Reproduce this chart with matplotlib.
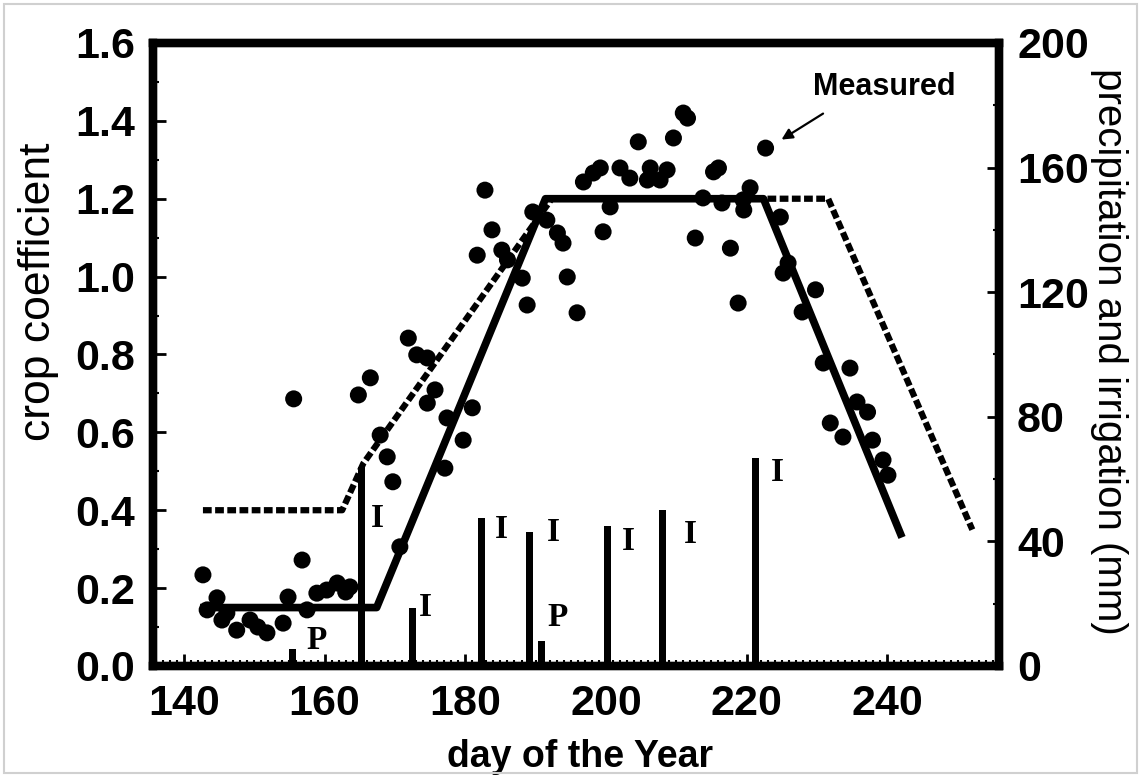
import matplotlib
matplotlib.use("Agg")
import matplotlib.pyplot as plt
from matplotlib.patches import Rectangle
from matplotlib.ticker import MultipleLocator

plt.rcParams['font.family'] = ['Liberation Sans', 'DejaVu Sans']

# measured crop coefficient (day of year, kc)
meas_day = [142.7, 143.3, 144.7, 145.4, 146.1, 147.5, 149.4, 150.5, 151.8, 154.1,
            154.8, 155.6, 156.8, 157.5, 158.9, 160.3, 161.8, 163.0, 163.6, 164.8,
            166.5, 167.9, 168.9, 169.7, 170.7, 171.9, 173.1, 174.6, 174.6, 175.7,
            177.1, 177.4, 179.7, 181.0, 181.7, 182.8, 183.8, 185.2, 186.0, 188.1,
            188.8, 189.6, 191.6, 193.1, 193.9, 194.5, 195.9, 196.8, 198.2, 199.2,
            199.6, 200.6, 202.0, 203.4, 204.6, 205.9, 206.3, 207.7, 208.7, 209.6,
            211.0, 211.6, 212.7, 213.8, 215.3, 216.0, 216.5, 217.7, 218.8, 219.5,
            219.6, 220.5, 222.7, 224.8, 225.2, 225.9, 227.9, 229.8, 230.9, 231.9,
            233.7, 234.7, 235.7, 237.2, 237.9, 239.4, 240.1]
meas_kc = [0.234, 0.144, 0.175, 0.118, 0.136, 0.092, 0.118, 0.100, 0.085, 0.110,
           0.177, 0.686, 0.272, 0.144, 0.187, 0.195, 0.213, 0.190, 0.203, 0.696,
           0.740, 0.593, 0.537, 0.473, 0.306, 0.842, 0.799, 0.791, 0.675, 0.709,
           0.508, 0.637, 0.580, 0.663, 1.055, 1.222, 1.120, 1.068, 1.043, 0.996,
           0.927, 1.166, 1.145, 1.112, 1.086, 0.999, 0.907, 1.243, 1.266, 1.279,
           1.115, 1.179, 1.279, 1.253, 1.346, 1.248, 1.279, 1.248, 1.274, 1.356,
           1.420, 1.407, 1.099, 1.202, 1.269, 1.279, 1.189, 1.073, 0.932, 1.197,
           1.171, 1.228, 1.330, 1.153, 1.009, 1.035, 0.909, 0.966, 0.778, 0.624,
           0.588, 0.765, 0.678, 0.652, 0.580, 0.529, 0.490]

# crop coefficient curves
solid_day = [142.3, 167.4, 191.4, 222.4, 242.1]
solid_kc = [0.15, 0.15, 1.2, 1.2, 0.33]
dash_day = [142.7, 162.5, 165.5, 192.3, 231.6, 252.1]
dash_kc = [0.40, 0.40, 0.52, 1.2, 1.2, 0.35]

# precipitation (P) and irrigation (I) events, mm
water_day = [155.5, 165.25, 172.5, 182.25, 189.1, 190.9, 200.2, 208.1, 221.2]
water_mm = [5.5, 64, 18.6, 47.5, 43, 8, 45, 50, 66.8]
water_type = ['P', 'I', 'I', 'I', 'I', 'P', 'I', 'I', 'I']
label_day = [158.9, 167.5, 174.3, 185.2, 192.5, 193.1, 203.2, 212.0, 224.4]
label_mm = [8.3, 47.5, 18.9, 43.7, 42.7, 15.4, 39.8, 42.1, 62.0]

fig = plt.figure(figsize=(11.41, 7.77), dpi=100)
ax = fig.add_axes([0.1341, 0.1429, 0.7415, 0.8018])
ax2 = ax.twinx()

ax.plot(solid_day, solid_kc, color='black', lw=5.5, solid_capstyle='butt', zorder=3)
ax.plot(dash_day, dash_kc, color='black', lw=4.5, linestyle=(0, (1.4, 0.55)),
        dash_capstyle='butt', zorder=3)
ax.scatter(meas_day, meas_kc, s=150, color='black', edgecolors='none', zorder=4)

ax2.bar(water_day, water_mm, width=1.0, color='black')
for d, m, t in zip(label_day, label_mm, water_type):
    ax2.text(d, m, t, family='Liberation Serif', fontsize=24, fontweight='bold',
             ha='center', va='center')

ax.annotate('Measured', xy=(224.8, 1.35), xytext=(239.6, 1.487),
            fontsize=22, fontweight='bold', ha='center', va='center',
            arrowprops=dict(arrowstyle='-|>', color='black', lw=1.6,
                            relpos=(0.2, 0.0), shrinkA=12, shrinkB=1,
                            mutation_scale=16))

ax.set_xlim(135.6, 255.9)
ax.set_ylim(0, 1.6)
ax2.set_ylim(0, 200)

ax.xaxis.set_major_locator(MultipleLocator(20))
ax.xaxis.set_minor_locator(MultipleLocator(1))
ax.yaxis.set_major_locator(MultipleLocator(0.2))
ax.yaxis.set_minor_locator(MultipleLocator(0.1))
ax2.yaxis.set_major_locator(MultipleLocator(40))
ax2.yaxis.set_minor_locator(MultipleLocator(20))
ax.yaxis.set_major_formatter(plt.FormatStrFormatter('%.1f'))

ax.tick_params(axis='both', which='major', direction='in', length=9, width=2,
               labelsize=31, pad=13, top=False, right=False)
ax.tick_params(axis='both', which='minor', direction='in', length=4, width=1.5,
               top=False, right=False)
ax2.tick_params(axis='y', which='major', direction='in', length=9, width=2,
                labelsize=31, pad=13)
ax2.tick_params(axis='y', which='minor', direction='in', length=4, width=1.5)
for lab in ax.get_xticklabels() + ax.get_yticklabels() + ax2.get_yticklabels():
    lab.set_fontweight('bold')

for a in (ax, ax2):
    for sp in a.spines.values():
        sp.set_linewidth(6)

ax.set_xlabel('day of the Year', fontsize=27, fontweight='bold', va='center')
ax.xaxis.set_label_coords(0.505, -0.146)
ax.set_ylabel('crop coefficient', fontsize=32, va='center')
ax.yaxis.set_label_coords(-0.135, 0.60)
ax2.set_ylabel('precipitation and irrigation (mm)', fontsize=29, rotation=270,
               va='center')
ax2.yaxis.set_label_coords(1.13, 0.505)

# thin grey frame round the picture
fig.patches.append(Rectangle((4 / 1141, 4 / 777), 1133 / 1141, 769 / 777,
                             transform=fig.transFigure, fill=False,
                             edgecolor='#d0d0d0', lw=1.5))

fig.savefig('out.png', dpi=100)
